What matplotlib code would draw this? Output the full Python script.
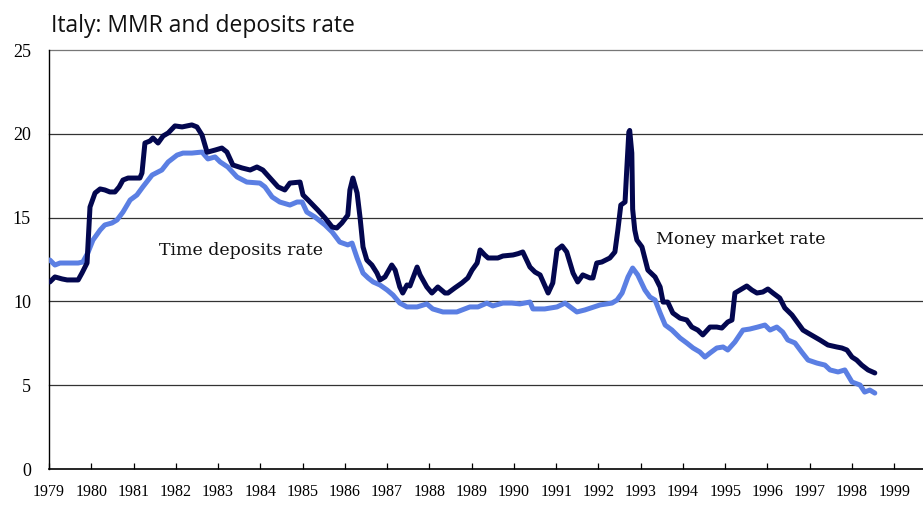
import matplotlib
matplotlib.use("Agg")
import matplotlib.pyplot as plt

# money market rate (decimal year, %)
mmr_years = [1979.02, 1979.14, 1979.31, 1979.43, 1979.69, 1979.78, 1979.90, 1979.97, 1980.09, 1980.21,
             1980.32, 1980.44, 1980.56, 1980.66, 1980.75, 1980.87, 1981.03, 1981.15, 1981.20, 1981.27,
             1981.39, 1981.46, 1981.58, 1981.70, 1981.82, 1981.98, 1982.15, 1982.38, 1982.50, 1982.62,
             1982.74, 1982.93, 1983.09, 1983.21, 1983.35, 1983.57, 1983.76, 1983.92, 1984.06, 1984.23,
             1984.42, 1984.58, 1984.70, 1984.94, 1985.01, 1985.13, 1985.36, 1985.53, 1985.70, 1985.81,
             1985.93, 1986.07, 1986.12, 1986.19, 1986.29, 1986.36, 1986.43, 1986.52, 1986.64, 1986.76,
             1986.83, 1986.95, 1987.11, 1987.19, 1987.30, 1987.37, 1987.47, 1987.54, 1987.71, 1987.78,
             1987.94, 1988.06, 1988.20, 1988.37, 1988.44, 1988.60, 1988.77, 1988.91, 1989.01, 1989.13,
             1989.20, 1989.31, 1989.39, 1989.62, 1989.74, 1989.98, 1990.10, 1990.21, 1990.38, 1990.50,
             1990.62, 1990.81, 1990.92, 1991.02, 1991.14, 1991.25, 1991.40, 1991.51, 1991.63, 1991.80,
             1991.87, 1991.96, 1992.08, 1992.27, 1992.39, 1992.46, 1992.53, 1992.63, 1992.67, 1992.72,
             1992.74, 1992.79, 1992.81, 1992.86, 1992.91, 1993.03, 1993.17, 1993.34, 1993.46, 1993.53,
             1993.64, 1993.76, 1993.93, 1994.09, 1994.21, 1994.35, 1994.47, 1994.64, 1994.80, 1994.92,
             1995.06, 1995.16, 1995.23, 1995.35, 1995.51, 1995.63, 1995.75, 1995.89, 1996.01, 1996.13,
             1996.29, 1996.41, 1996.58, 1996.72, 1996.84, 1996.96, 1997.12, 1997.24, 1997.43, 1997.64,
             1997.76, 1997.88, 1998.00, 1998.11, 1998.23, 1998.38, 1998.54]
mmr_values = [11.16, 11.46, 11.34, 11.28, 11.28, 11.69, 12.29, 15.63, 16.47, 16.71,
              16.65, 16.53, 16.53, 16.83, 17.24, 17.36, 17.36, 17.36, 17.66, 19.45,
              19.57, 19.75, 19.45, 19.87, 20.05, 20.47, 20.41, 20.53, 20.41, 19.93,
              18.90, 19.03, 19.15, 18.91, 18.14, 17.96, 17.84, 18.02, 17.84, 17.36,
              16.83, 16.65, 17.06, 17.12, 16.35, 16.05, 15.45, 14.98, 14.44, 14.38,
              14.68, 15.15, 16.65, 17.36, 16.47, 15.00, 13.25, 12.47, 12.17, 11.69,
              11.28, 11.46, 12.17, 11.87, 10.86, 10.50, 10.98, 10.92, 12.05, 11.58,
              10.86, 10.50, 10.86, 10.50, 10.50, 10.80, 11.10, 11.40, 11.87, 12.29,
              13.07, 12.77, 12.59, 12.59, 12.71, 12.77, 12.85, 12.95, 12.05, 11.75,
              11.58, 10.50, 11.10, 13.07, 13.31, 12.95, 11.69, 11.16, 11.58, 11.40,
              11.40, 12.29, 12.35, 12.59, 12.95, 14.26, 15.75, 15.93, 17.84, 20.10,
              20.20, 18.85, 15.50, 14.26, 13.66, 13.25, 11.87, 11.46, 10.86, 9.96,
              9.96, 9.31, 9.00, 8.89, 8.47, 8.29, 8.00, 8.47, 8.47, 8.41,
              8.77, 8.89, 10.50, 10.68, 10.92, 10.68, 10.50, 10.56, 10.74, 10.50,
              10.20, 9.61, 9.19, 8.71, 8.29, 8.11, 7.88, 7.70, 7.40, 7.28,
              7.22, 7.10, 6.68, 6.50, 6.20, 5.91, 5.73]

# time deposits rate (decimal year, %)
dep_years = [1979.02, 1979.14, 1979.26, 1979.69, 1979.80, 1979.92, 1980.04, 1980.21, 1980.32, 1980.49,
             1980.61, 1980.75, 1980.92, 1981.08, 1981.22, 1981.44, 1981.67, 1981.82, 1982.03, 1982.17,
             1982.38, 1982.62, 1982.76, 1982.93, 1983.05, 1983.23, 1983.45, 1983.68, 1983.99, 1984.11,
             1984.28, 1984.46, 1984.70, 1984.87, 1984.99, 1985.10, 1985.29, 1985.53, 1985.70, 1985.88,
             1986.07, 1986.17, 1986.29, 1986.43, 1986.55, 1986.67, 1986.83, 1987.00, 1987.14, 1987.30,
             1987.47, 1987.71, 1987.94, 1988.08, 1988.32, 1988.65, 1988.96, 1989.15, 1989.36, 1989.50,
             1989.74, 1989.95, 1990.14, 1990.38, 1990.45, 1990.73, 1991.02, 1991.21, 1991.49, 1991.68,
             1992.04, 1992.32, 1992.44, 1992.56, 1992.70, 1992.81, 1992.93, 1993.10, 1993.22, 1993.34,
             1993.46, 1993.58, 1993.74, 1993.93, 1994.09, 1994.24, 1994.40, 1994.52, 1994.64, 1994.80,
             1994.95, 1995.06, 1995.23, 1995.42, 1995.58, 1995.77, 1995.94, 1996.06, 1996.22, 1996.36,
             1996.48, 1996.65, 1996.81, 1996.96, 1997.17, 1997.36, 1997.48, 1997.67, 1997.83, 1998.00,
             1998.19, 1998.30, 1998.42, 1998.54]
dep_values = [12.47, 12.17, 12.29, 12.29, 12.35, 12.90, 13.66, 14.26, 14.56, 14.68,
              14.86, 15.33, 16.05, 16.35, 16.83, 17.54, 17.84, 18.32, 18.73, 18.85,
              18.85, 18.91, 18.50, 18.62, 18.32, 18.02, 17.42, 17.12, 17.06, 16.83,
              16.23, 15.93, 15.75, 15.93, 15.93, 15.33, 15.04, 14.56, 14.14, 13.54,
              13.37, 13.48, 12.59, 11.69, 11.40, 11.16, 10.98, 10.68, 10.38, 9.90,
              9.67, 9.67, 9.85, 9.55, 9.37, 9.37, 9.67, 9.67, 9.90, 9.73,
              9.90, 9.90, 9.85, 9.96, 9.55, 9.55, 9.67, 9.90, 9.37, 9.49,
              9.79, 9.90, 10.08, 10.50, 11.46, 11.99, 11.58, 10.68, 10.26, 10.08,
              9.31, 8.59, 8.29, 7.82, 7.52, 7.22, 6.98, 6.68, 6.92, 7.22,
              7.28, 7.10, 7.58, 8.29, 8.35, 8.47, 8.59, 8.29, 8.47, 8.17,
              7.70, 7.52, 6.98, 6.50, 6.32, 6.20, 5.91, 5.79, 5.91, 5.19,
              5.01, 4.59, 4.71, 4.53]

year_ticks = list(range(1979, 2000))
y_ticks = [0, 5, 10, 15, 20, 25]

dark_blue = '#03074f'
light_blue = '#5b7fe3'
serif = ['Liberation Serif', 'DejaVu Serif']

fig = plt.figure(figsize=(9.23, 5.05), dpi=100)
ax = fig.add_axes([49/923, 1 - 469/505, 874/923, 419/505])

ax.plot(dep_years, dep_values, color=light_blue, lw=3.6, solid_joinstyle='round', solid_capstyle='round', zorder=3)
ax.plot(mmr_years, mmr_values, color=dark_blue, lw=3.6, solid_joinstyle='round', solid_capstyle='round', zorder=4)

ax.set_xlim(1979, 1999.68)
ax.set_ylim(0, 25)

# horizontal grid, the one at 25 makes the top border
for v in y_ticks[1:]:
    ln = ax.axhline(v, color='#333333' if v < 25 else '#777777', lw=0.9, zorder=1)
    ln.set_clip_on(False)

for s in ['top', 'right']:
    ax.spines[s].set_visible(False)
ax.spines['left'].set_color('black')
ax.spines['left'].set_linewidth(1.0)
ax.spines['bottom'].set_color('black')
ax.spines['bottom'].set_linewidth(1.2)

ax.set_xticks(year_ticks)
ax.set_xticklabels([str(y) for y in year_ticks], family=serif, fontsize=11.5)
ax.set_yticks(y_ticks)
ax.set_yticklabels([str(v) for v in y_ticks], family=serif, fontsize=13)
ax.tick_params(axis='x', direction='in', length=4, width=0.9, pad=11, colors='black')
ax.tick_params(axis='y', length=0, pad=13, colors='black')

# in-chart labels are letter-spaced in the original, DejaVu Serif is wider
ax.text(1981.60, 12.77, "Time deposits rate", family=['DejaVu Serif'], fontsize=12.5, color='#111111', va='baseline', ha='left')
ax.text(1993.36, 13.42, "Money market rate", family=['DejaVu Serif'], fontsize=12.5, color='#111111', va='baseline', ha='left')

fig.text(51/923, 1 - 32/505, "Italy: MMR and deposits rate", family=['Open Sans', 'DejaVu Sans'],
         fontsize=16.5, color='#111111', va='baseline', ha='left')

plt.savefig("out.png", dpi=100)
